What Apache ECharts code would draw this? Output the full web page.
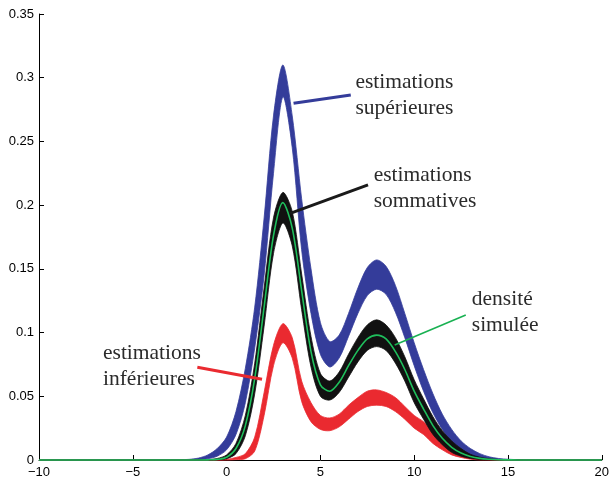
<!DOCTYPE html>
<html>
<head>
<meta charset="utf-8">
<script src="https://cdn.jsdelivr.net/npm/echarts@6/dist/echarts.min.js"></script>
<style>
html, body { margin: 0; padding: 0; background: #fff; }
#chart { width: 612px; height: 483px; }
</style>
</head>
<body>
<div id="chart"></div>
<script>
// abscisses communes
var xs = [-10, -3, -2, -1.5, -1, -0.5, 0, 0.5, 1, 1.5, 2, 2.5, 3, 3.5, 4, 4.5, 5, 5.5, 6, 6.5,
          7, 7.5, 8, 8.5, 9, 9.5, 10, 10.5, 11, 11.5, 12, 12.5, 13, 13.5, 14, 14.5, 15, 15.5, 16, 20];

// densite simulee (vert)
var simulee = [0, 0, 0, 0, 0.0001, 0.0005, 0.0022, 0.009, 0.027, 0.064, 0.12, 0.176, 0.202, 0.182, 0.133, 0.085, 0.059, 0.054, 0.061, 0.074,
               0.086, 0.095, 0.098, 0.095, 0.085, 0.071, 0.054, 0.040, 0.027, 0.017, 0.010, 0.0055, 0.0028, 0.0013, 0.0006, 0.0002, 0.0001, 0, 0, 0];

// estimations superieures (bleu) : bas / haut du faisceau
var supBas  = [0, 0, 0, 0.0003, 0.001, 0.003, 0.008, 0.02, 0.045, 0.088, 0.145, 0.225, 0.285, 0.245, 0.165, 0.115, 0.083, 0.073, 0.08, 0.097,
               0.115, 0.129, 0.134, 0.13, 0.116, 0.096, 0.074, 0.054, 0.037, 0.024, 0.014, 0.008, 0.004, 0.002, 0.0008, 0.0003, 0.0001, 0, 0, 0];
var supHaut = [0, 0.0001, 0.0005, 0.0015, 0.004, 0.009, 0.018, 0.038, 0.072, 0.12, 0.19, 0.27, 0.31, 0.27, 0.205, 0.15, 0.108, 0.093, 0.098, 0.115,
               0.135, 0.151, 0.157, 0.152, 0.137, 0.115, 0.092, 0.071, 0.052, 0.036, 0.024, 0.015, 0.009, 0.005, 0.0025, 0.0012, 0.0006, 0.0003, 0.0001, 0];

// estimations sommatives (noir)
var somBas  = [0, 0, 0, 0, 0, 0.0002, 0.001, 0.005, 0.019, 0.052, 0.105, 0.162, 0.186, 0.168, 0.118, 0.073, 0.05, 0.047, 0.053, 0.065,
               0.077, 0.086, 0.089, 0.086, 0.076, 0.062, 0.045, 0.032, 0.02, 0.012, 0.006, 0.003, 0.0012, 0.0004, 0.0001, 0, 0, 0, 0, 0];
var somHaut = [0, 0, 0, 0.0001, 0.0003, 0.0012, 0.004, 0.013, 0.035, 0.076, 0.135, 0.19, 0.21, 0.195, 0.146, 0.097, 0.068, 0.062, 0.069, 0.083,
               0.096, 0.106, 0.110, 0.106, 0.096, 0.081, 0.063, 0.048, 0.034, 0.023, 0.015, 0.009, 0.0045, 0.0022, 0.001, 0.0004, 0.0002, 0, 0, 0];

// estimations inferieures (rouge)
var infBas  = [0, 0, 0, 0, 0, 0, 0, 0.0003, 0.001, 0.007, 0.035, 0.074, 0.092, 0.08, 0.046, 0.03, 0.024, 0.023, 0.026, 0.032,
               0.038, 0.042, 0.043, 0.042, 0.038, 0.032, 0.025, 0.02, 0.013, 0.008, 0.004, 0.002, 0.0006, 0.0001, 0, 0, 0, 0, 0, 0];
var infHaut = [0, 0, 0, 0, 0, 0, 0.0005, 0.002, 0.005, 0.018, 0.053, 0.09, 0.107, 0.096, 0.062, 0.045, 0.035, 0.033, 0.036, 0.043,
               0.049, 0.054, 0.055, 0.053, 0.049, 0.042, 0.035, 0.03, 0.022, 0.015, 0.01, 0.006, 0.003, 0.0012, 0.0002, 0, 0, 0, 0, 0];

var xTicks = [-10, -5, 0, 5, 10, 15, 20];
var yTicks = [0, 0.05, 0.1, 0.15, 0.2, 0.25, 0.3, 0.35];

// annotations : texte, position du texte, segment du trait
var notes = [
    { text: 'estimations\nsupérieures', at: [6.87, 0.2863], seg: [[3.57, 0.280], [6.62, 0.2865]], color: '#343c9a', width: 3 },
    { text: 'estimations\nsommatives', at: [7.84, 0.2133], seg: [[3.39, 0.1936], [7.54, 0.2159]], color: '#1a1a1a', width: 3 },
    { text: 'densité\nsimulée', at: [13.07, 0.1158], seg: [[8.96, 0.0903], [12.75, 0.1138]], color: '#19b152', width: 1.6 },
    { text: 'estimations\ninférieures', at: [-6.59, 0.0732], seg: [[-1.56, 0.0728], [1.89, 0.0633]], color: '#ea2a30', width: 3 }
];

var BLEU = '#343c9a', NOIR = '#111111', ROUGE = '#ea2a30', VERT = '#1fbf5c';

//assembler les paires [x, y]
function paires(ys) {
    var out = [];
    for (var i = 0; i < xs.length; i++) out.push([xs[i], ys[i]]);
    return out;
}
//faisceau : polygone entre le bas et le haut, dessine via les echelles
function faisceau(nom, bas, haut, color) {
    var data = [];
    for (var i = 0; i < xs.length; i++) data.push([xs[i], bas[i], haut[i]]);
    return {
        name: nom, type: 'custom', data: data, silent: true,
        encode: { x: 0, y: [1, 2] },
        renderItem: function (params, api) {
            if (params.dataIndex !== 0) return null;
            var pts = [];
            for (var j = 0; j < xs.length; j++) pts.push(api.coord([xs[j], haut[j]]));
            for (var j = xs.length - 1; j >= 0; j--) pts.push(api.coord([xs[j], bas[j]]));
            return {
                type: 'polygon',
                shape: { points: pts, smooth: 0.3 },
                style: { fill: color, stroke: color, lineWidth: 0.8, lineJoin: 'round' }
            };
        }
    };
}

var series = [];
series.push(faisceau('sup', supBas, supHaut, BLEU));
series.push(faisceau('inf', infBas, infHaut, ROUGE));
series.push(faisceau('som', somBas, somHaut, NOIR));
series.push({ name: 'simulee', type: 'line', data: paires(simulee), showSymbol: false, silent: true, clip: false,
              smooth: 0.3, lineStyle: { color: VERT, width: 1.6 }, itemStyle: { color: VERT }, z: 5 });
for (var i = 0; i < notes.length; i++) {
    series.push({ type: 'line', data: notes[i].seg, showSymbol: false, silent: true, clip: false, z: 6,
                  lineStyle: { color: notes[i].color, width: notes[i].width } });
}

var option = {
    animation: false,
    backgroundColor: '#fff',
    grid: { left: 39, right: 7, top: 14, bottom: 23 },
    xAxis: {
        type: 'value', min: xTicks[0], max: xTicks[xTicks.length - 1], interval: 5,
        splitLine: { show: false },
        axisLine: { onZero: false, lineStyle: { color: '#000', width: 1 } },
        axisTick: { inside: true, length: 5, lineStyle: { color: '#000' } },
        axisLabel: { color: '#000', fontSize: 13, fontFamily: 'Liberation Sans', margin: 6,
                     formatter: function (v) { return String(v).replace('-', '\u2212'); } }
    },
    yAxis: {
        type: 'value', min: yTicks[0], max: yTicks[yTicks.length - 1], interval: 0.05,
        splitLine: { show: false },
        axisLine: { show: true, onZero: false, lineStyle: { color: '#000', width: 1 } },
        axisTick: { show: true, inside: true, length: 5, lineStyle: { color: '#000' } },
        axisLabel: { color: '#000', fontSize: 13, fontFamily: 'Liberation Sans', margin: 5 }
    },
    series: series
};

var chart = echarts.init(document.getElementById('chart'), null, { renderer: 'canvas' });
chart.setOption(option);

// textes des annotations places en coordonnees de donnees
var textes = [];
for (var k = 0; k < notes.length; k++) {
    var p = chart.convertToPixel({ gridIndex: 0 }, notes[k].at);
    textes.push({
        type: 'text', x: p[0], y: p[1], z: 10, silent: true,
        style: { text: notes[k].text, fill: '#2b2b2b', font: '21.5px "Liberation Serif"',
                 lineHeight: 26, align: 'left', verticalAlign: 'middle' }
    });
}
chart.setOption({ graphic: textes });
</script>
</body>
</html>
